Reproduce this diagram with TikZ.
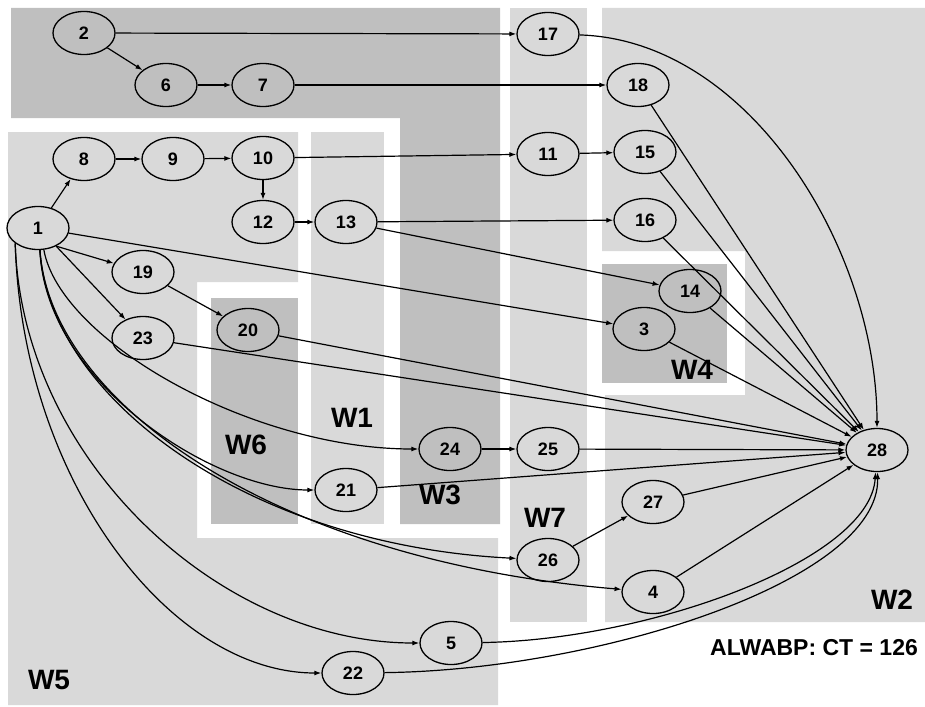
\documentclass[tikz,border=0pt]{standalone}
\usepackage{fontspec}
\setmainfont{Liberation Sans}
\usetikzlibrary{arrows.meta,shapes.geometric}
\definecolor{lightg}{HTML}{D9D9D9}
\definecolor{darkg}{HTML}{BFBFBF}
\tikzset{
  task/.style={ellipse,draw=black,line width=1.3pt,minimum width=62pt,minimum height=43pt,inner sep=0pt,font=\bfseries\fontsize{18}{18}\selectfont},
  edge/.style={line width=1.2pt,-{Latex[length=7pt,width=5pt]}},
  wlabel/.style={font=\bfseries\fontsize{28}{28}\selectfont,inner sep=0pt}
}
\begin{document}
\begin{tikzpicture}[x=1pt,y=-1pt]
\useasboundingbox (0,0) rectangle (925,706);
% regions
\fill[darkg] (11,8) -- (500,8) -- (500,524) -- (400,524) -- (400,118) -- (11,118) -- cycle;
\fill[lightg] (8,132) -- (298,132) -- (298,282) -- (197,282) -- (197,538) -- (498,538) -- (498,705) -- (8,705) -- cycle;
\fill[darkg] (211,298) rectangle (298,524);
\fill[lightg] (311,132) rectangle (384,524);
\fill[lightg] (510,8) rectangle (587,622);
\fill[lightg] (602,8) -- (925,8) -- (925,622) -- (605,622) -- (605,395) -- (745,395) -- (745,251) -- (602,251) -- cycle;
\fill[darkg] (602,264) rectangle (727,383);
% labels
\node[wlabel] (lw1) at (352,418) {W1};
\node[wlabel] (lw6) at (246,445) {W6};
\node[wlabel] (lw3) at (440,495) {W3};
\node[wlabel] (lw7) at (545,518) {W7};
\node[wlabel] (lw4) at (692,370) {W4};
\node[wlabel] (lw2) at (892,600) {W2};
\node[wlabel] (lw5) at (49,680) {W5};
\node[font=\bfseries\fontsize{23}{23}\selectfont,inner sep=0pt] (ct) at (814,648) {ALWABP: CT = 126};
% nodes
\node[task] (n2) at (84,33) {2};
\node[task] (n6) at (166,85) {6};
\node[task] (n7) at (263,85) {7};
\node[task] (n17) at (548,34) {17};
\node[task] (n18) at (638,85) {18};
\node[task] (n8) at (84,159) {8};
\node[task] (n9) at (173,159) {9};
\node[task] (n10) at (263,158) {10};
\node[task] (n12) at (263,222) {12};
\node[task] (n13) at (346,222) {13};
\node[task] (n1) at (38,228) {1};
\node[task] (n11) at (548,154) {11};
\node[task] (n15) at (645,152) {15};
\node[task] (n16) at (645,220) {16};
\node[task] (n19) at (143,272) {19};
\node[task] (n23) at (143,338) {23};
\node[task] (n20) at (248,330) {20};
\node[task] (n24) at (450,449) {24};
\node[task] (n21) at (346,490) {21};
\node[task] (n14) at (690,291) {14};
\node[task] (n3) at (644,329) {3};
\node[task] (n25) at (548,449) {25};
\node[task] (n28) at (877,450) {28};
\node[task] (n27) at (653,502) {27};
\node[task] (n26) at (548,560) {26};
\node[task] (n4) at (653,592) {4};
\node[task] (n5) at (451,643) {5};
\node[task] (n22) at (353,673) {22};
% edges
\draw[edge] (n2) -- (n17);
\draw[edge] (n2) -- (n6);
\draw[edge] (n6) -- (n7);
\draw[edge] (n7) -- (n18);
\draw[edge] (n8) -- (n9);
\draw[edge] (n9) -- (n10);
\draw[edge] (n10) -- (n12);
\draw[edge] (n12) -- (n13);
\draw[edge] (n10) -- (n11);
\draw[edge] (n11) -- (n15);
\draw[edge] (n13) -- (n16);
\draw[edge] (n13) -- (n14);
\draw[edge] (n1) -- (n8);
\draw[edge] (n1.-45) -- (n19);
\draw[edge] (n1.-45) -- (n23);
\draw[edge] (n1) -- (n3);
\draw[edge] (n19) -- (n20);
\draw[edge] (n24) -- (n25);
\draw[edge] (n26) -- (n27);
\draw[edge] (n1.-75) .. controls (60,340) and (250,449) .. (n24);
\draw[edge] (n1.-85) .. controls (45,380) and (210,490) .. (n21);
\draw[edge] (n1.-85) .. controls (50,400) and (250,545) .. (n26);
\draw[edge] (n1.-85) .. controls (50,400) and (270,560) .. (n4);
\draw[edge] (n1.214) .. controls (22,460) and (220,643) .. (n5);
\draw[edge] (n1.214) .. controls (22,480) and (170,673) .. (n22);
% into 28
\draw[edge] (n17) .. controls (750,40) and (877,250) .. (n28);
\draw[edge] (n18) -- (n28);
\draw[edge] (n15) -- (n28);
\draw[edge] (n16) -- (n28);
\draw[edge] (n14) -- (n28);
\draw[edge] (n3) -- (n28);
\draw[edge] (n20) -- (n28);
\draw[edge] (n23) -- (n28);
\draw[edge] (n25) -- (n28);
\draw[edge] (n21) -- (n28);
\draw[edge] (n27) -- (n28);
\draw[edge] (n4) -- (n28);
\draw[edge] (n5) .. controls (650,640) and (870,560) .. (n28);
\draw[edge] (n22) .. controls (600,670) and (880,580) .. (n28);
\end{tikzpicture}
\end{document}
